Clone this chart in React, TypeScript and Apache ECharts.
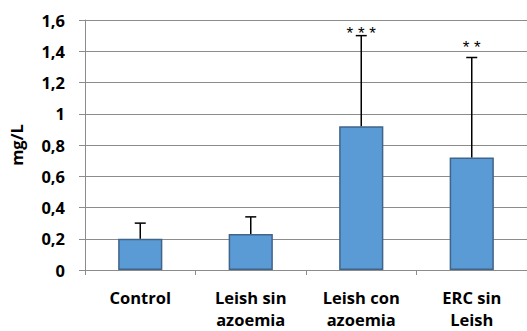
import React, { useEffect, useRef } from "react";
import * as echarts from "echarts";

const categories = ["Control", "Leish sin\nazoemia", "Leish con\nazoemia", "ERC sin\nLeish"];
const means = [0.2, 0.23, 0.92, 0.72];
const upperErrors = [0.3, 0.34, 1.5, 1.36];
const sigLabels = ["* * *", "* *"];
const sigIndices = [2, 3];
const sigLabelValues = [1.515, 1.425];
const yTicks = { min: 0, max: 1.6, interval: 0.2 };
const yAxisName = "mg/L";

const FONT = "'Open Sans', 'Liberation Sans', sans-serif";
const FS = 16.5;

export default function App() {
  const ref = useRef<HTMLDivElement>(null);
  useEffect(() => {
    if (!ref.current) return;
    const chart = echarts.init(ref.current, undefined, { renderer: "svg" });
    const errData = categories.map((_, i) => {
      const k = sigIndices.indexOf(i);
      return [i, means[i], upperErrors[i], k >= 0 ? sigLabelValues[k] : 0, k];
    });
    chart.setOption({
      animation: false,
      grid: { left: 85, right: 0, top: 20, bottom: 61, outerBoundsMode: "none", containLabel: false },
      xAxis: {
        type: "category",
        data: categories,
        axisLine: { lineStyle: { color: "#8c8c8c", width: 1 } },
        axisTick: { show: true, length: 5, lineStyle: { color: "#8c8c8c" } },
        axisLabel: {
          color: "#000",
          fontFamily: FONT,
          fontWeight: "bold",
          fontSize: FS,
          lineHeight: 22,
          margin: 16,
        },
      },
      yAxis: {
        type: "value",
        min: yTicks.min,
        max: yTicks.max,
        interval: yTicks.interval,
        name: yAxisName,
        nameLocation: "middle",
        nameRotate: 90,
        nameGap: 60,
        nameTextStyle: { color: "#000", fontFamily: FONT, fontWeight: "bold", fontSize: FS },
        axisLine: { show: true, lineStyle: { color: "#8c8c8c", width: 1 } },
        axisTick: { show: true, length: 6, lineStyle: { color: "#8c8c8c" } },
        splitLine: { lineStyle: { color: "#8c8c8c", width: 1 } },
        axisLabel: {
          color: "#000",
          fontFamily: FONT,
          fontWeight: "bold",
          fontSize: FS,
          margin: 20,
          formatter: (v: number) => String(Math.round(v * 10) / 10).replace(".", ","),
        },
      },
      series: [
        {
          type: "bar",
          data: means,
          barWidth: "40%",
          itemStyle: { color: "#5B9BD5", borderColor: "#41648A", borderWidth: 1.5 },
          z: 2,
        },
        {
          type: "custom",
          data: errData,
          z: 3,
          encode: { x: 0, y: [1, 2] },
          renderItem: (params: any, api: any) => {
            const i = api.value(0);
            const lo = api.coord([i, api.value(1)]);
            const hi = api.coord([i, api.value(2)]);
            const lab = api.coord([i, api.value(3)]);
            const k = api.value(4);
            const half = 5.5;
            const children: any[] = [
              { type: "line", shape: { x1: lo[0], y1: lo[1], x2: hi[0], y2: hi[1] }, style: { stroke: "#000", lineWidth: 1.5 } },
              { type: "line", shape: { x1: hi[0] - half, y1: hi[1], x2: hi[0] + half, y2: hi[1] }, style: { stroke: "#000", lineWidth: 1.5 } },
            ];
            if (k >= 0) {
              children.push({
                type: "text",
                x: lab[0],
                y: lab[1],
                style: {
                  text: sigLabels[k],
                  fill: "#000",
                  font: "17px 'Liberation Sans', sans-serif",
                  align: "center",
                  verticalAlign: "middle",
                },
              });
            }
            return { type: "group", children };
          },
        },
      ],
    });
    return () => chart.dispose();
  }, []);
  return (
    <div
      ref={ref}
      style={{ position: "fixed", left: 0, top: 0, width: 527, height: 331, background: "#fff" }}
    />
  );
}
